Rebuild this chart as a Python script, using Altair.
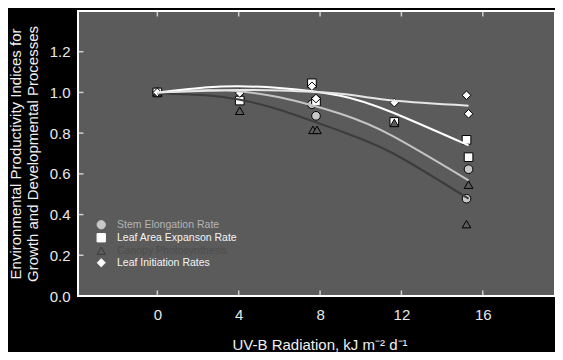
import altair as alt
import pandas as pd

SERIES = ["Stem Elongation Rate", "Leaf Area Expanson Rate",
          "Canopy Photosynthesis", "Leaf Initiation Rates"]

# measured points (x = UV-B dose, y = index)
STEM_X = [0, 4.05, 7.6, 7.8, 15.2, 15.3]
STEM_Y = [1.0, 0.965, 0.942, 0.885, 0.478, 0.623]
AREA_X = [0, 4.05, 7.6, 7.8, 11.65, 15.2, 15.3]
AREA_Y = [1.0, 0.96, 1.045, 0.955, 0.855, 0.767, 0.682]
CANOPY_X = [0, 4.05, 7.65, 7.85, 11.65, 15.2, 15.3]
CANOPY_Y = [1.0, 0.91, 0.816, 0.816, 0.85, 0.353, 0.547]
INIT_X = [0, 4.05, 7.6, 7.8, 11.65, 15.2, 15.3]
INIT_Y = [1.0, 0.997, 1.03, 0.97, 0.95, 0.986, 0.895]

# fitted curves
CURVE_X = [0, 2.5, 4, 6, 9, 11.6, 15.3]
CANOPY_FIT = [0.995, 0.985, 0.965, 0.915, 0.81, 0.70, 0.478]
STEM_FIT = [1.0, 1.012, 1.006, 0.976, 0.895, 0.784, 0.568]
AREA_FIT = [1.0, 1.025, 1.03, 1.022, 0.984, 0.90, 0.74]
INIT_FIT = [1.0, 1.008, 1.012, 1.009, 0.993, 0.96, 0.935]

X_TICKS = [0, 4, 8, 12, 16]
Y_TICKS = [0.0, 0.2, 0.4, 0.6, 0.8, 1.0, 1.2]

SHAPES = ["circle", "square", "triangle-up", "diamond"]
FILLS = ["#c8c8c8", "#ffffff", "#5b5b5b", "#ffffff"]
LINE_COLORS = ["#c4c4c4", "#ffffff", "#3c3c3c", "#e6e6e6"]

rows = []
for name, xs, ys in [(SERIES[0], STEM_X, STEM_Y), (SERIES[1], AREA_X, AREA_Y),
                     (SERIES[2], CANOPY_X, CANOPY_Y), (SERIES[3], INIT_X, INIT_Y)]:
    for xv, yv in zip(xs, ys):
        rows.append({"series": name, "x": xv, "y": yv})
pts = pd.DataFrame(rows)
pts["ord"] = range(len(pts))

crows = []
for i, (name, ys) in enumerate([(SERIES[2], CANOPY_FIT), (SERIES[0], STEM_FIT),
                                (SERIES[1], AREA_FIT), (SERIES[3], INIT_FIT)]):
    for xv, yv in zip(CURVE_X, ys):
        crows.append({"series": name, "x": xv, "y": yv, "k": i})
curves = pd.DataFrame(crows)

xscale = alt.Scale(domain=[-3.9, 19.55], nice=False, zero=False)
yscale = alt.Scale(domain=[0, 1.4], nice=False, zero=False)

LABEL_C = "#e8e8e8"
xaxis = alt.Axis(values=X_TICKS, domain=False, ticks=False, grid=False,
                 labelFontSize=15, labelColor=LABEL_C, labelPadding=11,
                 title="UV-B Radiation, kJ m⁻² d⁻¹", titleFontSize=15,
                 titleColor="#f0f0f0", titleFontWeight="normal",
                 titleBaseline="alphabetic", titleY=53, titleX=241.5)
yaxis = alt.Axis(values=Y_TICKS, format=".1f", domain=False, ticks=False,
                 grid=False, labelFontSize=15, labelColor=LABEL_C, labelPadding=8,
                 title=["Environmental Productivity Indices for",
                        "Growth and Developmental Processes"],
                 titleFontSize=15, titleColor="#f0f0f0", titleFontWeight="normal",
                 titleX=-62.5, titleY=142.5, titleAngle=-90, titleBaseline="middle",
                 titleAlign="center", titleLineHeight=17)

label_expr = ("datum.label == 'Canopy Photosynthesis' ? '#4d4d4d' : "
              "datum.label == 'Stem Elongation Rate' ? '#b4b4b4' : '#f4f4f4'")


def make_legend():
    return alt.Legend(title=None, orient="none", legendX=18, legendY=208.5,
                      labelFontSize=10.5, labelColor={"expr": label_expr},
                      symbolSize=70, symbolStrokeColor="black", symbolStrokeWidth=1,
                      symbolOpacity=1, rowPadding=0, padding=0, labelOffset=10.5,
                      labelFont="Liberation Sans")


points = alt.Chart(pts).mark_point(filled=True, stroke="black", strokeWidth=1,
                                   size=75, opacity=1).encode(
    x=alt.X("x:Q", scale=xscale, axis=xaxis),
    y=alt.Y("y:Q", scale=yscale, axis=yaxis),
    shape=alt.Shape("series:N", scale=alt.Scale(domain=SERIES, range=SHAPES),
                    legend=make_legend()),
    fill=alt.Fill("series:N", scale=alt.Scale(domain=SERIES, range=FILLS),
                  legend=make_legend()),
    order="ord:Q",
)

lines = alt.Chart(curves).mark_line(strokeWidth=2, interpolate="natural").encode(
    x=alt.X("x:Q", scale=xscale, axis=xaxis),
    y=alt.Y("y:Q", scale=yscale, axis=yaxis),
    color=alt.Color("series:N", scale=alt.Scale(domain=SERIES, range=LINE_COLORS),
                    legend=None),
    detail="k:N",
)

xt = pd.DataFrame({"x": X_TICKS})
yt = pd.DataFrame({"y": Y_TICKS})
bottom_ticks = alt.Chart(xt).mark_tick(orient="vertical", clip=True, size=11,
                                       thickness=1.5, color="white").encode(
    x=alt.X("x:Q", scale=xscale, axis=xaxis), y=alt.YDatum(0, scale=yscale, axis=yaxis))
top_ticks = alt.Chart(xt).mark_tick(orient="vertical", clip=True, size=11,
                                    thickness=1.5, color="white").encode(
    x=alt.X("x:Q", scale=xscale, axis=xaxis), y=alt.YDatum(1.4, scale=yscale, axis=yaxis))
left_ticks = alt.Chart(yt).mark_tick(orient="horizontal", clip=True, size=11,
                                     thickness=1.5, color="white").encode(
    y=alt.Y("y:Q", scale=yscale, axis=yaxis), x=alt.XDatum(-3.9, scale=xscale, axis=xaxis))

chart = alt.layer(points, lines, bottom_ticks, top_ticks, left_ticks).properties(
    width=477, height=285,
    autosize=alt.AutoSizeParams(type="none"),
    padding={"left": 70, "top": 3, "right": 0, "bottom": 56},
).configure(background="black", font="Liberation Sans").configure_view(
    fill="#5b5b5b", stroke="white", strokeWidth=2)

chart.save("out.html", embed_options={"renderer": "svg", "actions": False})
